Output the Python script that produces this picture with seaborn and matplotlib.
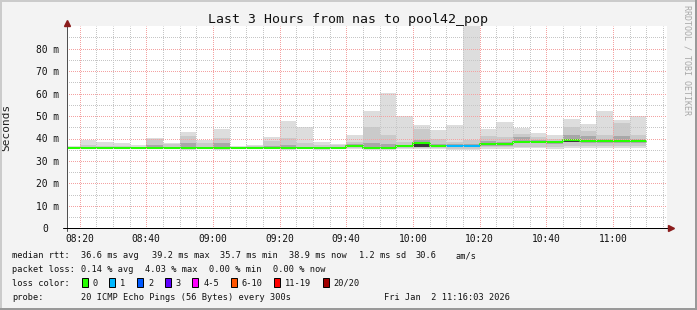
import numpy as np
import pandas as pd
import matplotlib
matplotlib.use("Agg")
import matplotlib.pyplot as plt
import matplotlib.dates as mdates
import seaborn as sns
from matplotlib.patches import Rectangle
from matplotlib.lines import Line2D
from matplotlib.transforms import ScaledTranslation

# ---------------- data ----------------
step_start = pd.date_range("2026-01-02 08:15", "2026-01-02 11:05", freq="5min")
view_start = pd.Timestamp("2026-01-02 08:16:15")
view_end = pd.Timestamp("2026-01-02 11:16:15")

# RTT distribution per 5-minute step (ms)
rtt_min = [35.3, 35.2, 35.2, 35.3, 35.3, 35.2, 35.2, 35.1, 35.2, 35.0,
           35.3, 35.3, 35.2, 35.1, 35.2, 35.0, 35.2, 35.3, 35.0, 35.0,
           35.3, 35.2, 35.3, 35.0, 35.0, 35.5, 35.5, 35.6, 35.6, 35.4,
           35.8, 35.8, 35.6, 35.6, 35.6]
rtt_p10 = [35.5, 35.4, 35.4, 35.5, 35.5, 35.5, 35.4, 35.4, 35.4, 35.3,
           35.5, 35.5, 35.4, 35.4, 35.4, 35.3, 35.4, 35.6, 35.4, 35.4,
           35.8, 35.8, 35.8, 35.4, 35.4, 36.0, 36.0, 36.4, 36.4, 36.2,
           36.8, 36.8, 36.6, 36.6, 36.6]
rtt_p25 = [35.6, 35.6, 35.6, 35.6, 35.6, 35.6, 35.6, 35.6, 35.6, 35.6,
           35.6, 35.6, 35.6, 35.6, 35.6, 35.6, 35.6, 36.1, 35.6, 35.6,
           36.3, 36.3, 36.2, 36.0, 36.0, 36.8, 36.8, 37.8, 37.8, 37.6,
           38.4, 38.0, 38.0, 38.0, 38.0]
rtt_p40 = [35.7, 35.7, 35.7, 35.7, 35.7, 35.7, 35.7, 35.7, 35.7, 35.7,
           35.7, 35.7, 35.7, 35.7, 35.7, 35.7, 35.8, 36.6, 35.8, 35.7,
           36.6, 36.3, 36.6, 36.5, 36.7, 37.5, 37.5, 38.3, 38.3, 38.3,
           38.6, 38.9, 38.9, 38.6, 38.8]
rtt_median = [35.8, 35.8, 35.8, 35.8, 35.8, 35.8, 35.8, 35.8, 35.8, 35.8,
              35.8, 35.8, 35.8, 35.8, 35.8, 35.8, 35.9, 36.7, 35.9, 35.8,
              36.7, 37.8, 36.7, 36.6, 36.8, 37.6, 37.6, 38.4, 38.4, 38.4,
              39.2, 39.0, 39.0, 38.7, 38.9]
rtt_p75 = [36.0, 36.2, 36.1, 36.0, 36.0, 37.0, 36.3, 37.8, 36.3, 38.0,
           36.0, 36.0, 36.5, 37.0, 36.3, 36.2, 36.3, 37.4, 37.8, 37.5,
           37.2, 39.5, 37.5, 37.4, 37.5, 39.0, 38.5, 40.6, 39.5, 39.0,
           41.5, 41.0, 40.0, 41.0, 40.0]
rtt_p90 = [36.3, 37.0, 36.8, 36.5, 36.3, 40.0, 37.4, 41.1, 37.8, 40.1,
           36.3, 36.5, 38.9, 40.2, 37.8, 37.0, 37.0, 38.5, 45.0, 41.6,
           38.6, 44.2, 39.6, 38.6, 39.3, 41.1, 40.5, 42.0, 40.8, 39.8,
           45.3, 43.5, 41.6, 47.0, 41.6]
rtt_max = [36.7, 39.3, 38.4, 38.0, 37.1, 40.2, 38.1, 42.9, 39.3, 44.4,
           36.7, 37.2, 40.8, 47.8, 45.3, 38.3, 37.7, 41.6, 52.4, 60.4,
           50.2, 46.0, 43.8, 46.0, 95.0, 44.2, 47.2, 44.5, 42.6, 41.6,
           48.8, 46.5, 52.4, 48.2, 50.2]
loss_count = [0] * 23 + [1, 1] + [0] * 10

loss_labels = ["0", "1", "2", "3", "4-5", "6-10", "11-19", "20/20"]
loss_colors = ["#26ff00", "#00b8ff", "#0059ff", "#5e00ff", "#ff00fe",
               "#ff5500", "#ff0000", "#a10000"]
loss_upper = [0, 1, 2, 3, 5, 10, 19, 20]

y_ticks = [0, 10, 20, 30, 40, 50, 60, 70, 80]
y_tick_labels = ["0", "10 m", "20 m", "30 m", "40 m", "50 m", "60 m", "70 m", "80 m"]

title = "Last 3 Hours from nas to pool42_pop"
stats_rtt = ["median rtt:", "36.6 ms avg", "39.2 ms max", "35.7 ms min",
             "38.9 ms now", "1.2 ms sd", "30.6", "am/s"]
stats_loss = ["packet loss:", "0.14 % avg", "4.03 % max", "0.00 % min", "0.00 % now"]
probe_text = "20 ICMP Echo Pings (56 Bytes) every 300s"
date_text = "Fri Jan  2 11:16:03 2026"

# ---------------- figure ----------------
sns.set_style("white")
plt.rcParams["font.family"] = ["DejaVu Sans Mono", "DejaVu Sans"]

W, H = 697, 310
fig = plt.figure(figsize=(W / 100, H / 100), dpi=100, facecolor="#f3f3f3")
y0_px, ytop_px, x0_px, pw = 228.3, 26.25, 67, 600
ax = fig.add_axes([x0_px / W, (H - y0_px) / H, pw / W, (y0_px - ytop_px) / H])
ax.set_facecolor("white")

edges = step_start.append(pd.DatetimeIndex([step_start[-1] + pd.Timedelta("5min")]))


def ext(a):
    a = np.asarray(a, float)
    return np.append(a, a[-1])


bands = [(rtt_min, rtt_max, "#dddddd"),
         (rtt_p10, rtt_p90, "#cacaca"),
         (rtt_p25, rtt_p75, "#a8a8a8"),
         (rtt_p40, rtt_median, "#3a3a3a")]
for lo, hi, c in bands:
    ax.fill_between(edges, ext(lo), ext(hi), step="post", color=c, lw=0, zorder=1)

sns.lineplot(x=edges, y=ext(rtt_median), drawstyle="steps-post",
             color=loss_colors[0], lw=1.45, ax=ax, zorder=2)


def loss_color(n):
    for up, c in zip(loss_upper, loss_colors):
        if n <= up:
            return c
    return loss_colors[-1]


for i, n in enumerate(loss_count):
    if n > 0:
        ax.hlines(rtt_median[i], edges[i], edges[i + 1], color=loss_color(n),
                  lw=1.45, zorder=2.2)

ax.set_xlim(view_start, view_end)
ax.set_ylim(0, 90)
ax.set_xlabel("")
ax.set_ylabel("Seconds", fontsize=8, color="#222222")
ax.yaxis.set_label_coords((10.8 - x0_px) / pw, 0.5)

ax.xaxis.set_major_locator(mdates.MinuteLocator(byminute=[0, 20, 40]))
ax.xaxis.set_minor_locator(mdates.MinuteLocator(byminute=range(0, 60, 5)))
ax.xaxis.set_major_formatter(mdates.DateFormatter("%H:%M"))
ax.set_yticks(y_ticks)
ax.set_yticklabels(y_tick_labels)
ax.set_yticks(np.arange(5, 90, 10), minor=True)

ax.set_axisbelow(False)
dot = (0.5, (1, 1))
mg, ng = "#f4a2a2", "#c6c6c6"
ax.grid(which="major", color=mg, lw=0.72, ls=dot, snap=True)
ax.grid(which="minor", color=ng, lw=0.72, ls=dot, snap=True)
ax.tick_params(axis="both", which="major", labelsize=6.9, labelcolor="#111111")
ax.tick_params(axis="y", which="major", length=2.2, width=0.72, color=mg, pad=3.6)
ax.tick_params(axis="y", which="minor", length=1.5, width=0.72, color=ng)
ax.tick_params(axis="x", which="major", length=2.0, width=0.72, color=mg, pad=2.0)
ax.tick_params(axis="x", which="minor", length=1.5, width=0.72, color=ng)

lbl0 = ax.yaxis.get_major_ticks()[0].label1
lbl0.set_transform(lbl0.get_transform() + ScaledTranslation(-11.3 / 100, 0, fig.dpi_scale_trans))

for s in ax.spines.values():
    s.set_visible(False)
ax.plot([0, 0], [-0.012, 1.012], transform=ax.transAxes, color="#505050", lw=0.72,
        clip_on=False, zorder=5, snap=True)
ax.plot([-4.3 / pw, 1.004], [0, 0], transform=ax.transAxes, color="black", lw=0.72,
        clip_on=False, zorder=5, snap=True)
ax.plot([0], [(y0_px - 23.3) / (y0_px - ytop_px)], marker="^", ms=3.8, color="#8b1c1c",
        transform=ax.transAxes, clip_on=False, zorder=6)
ax.plot([(671.3 - x0_px) / pw], [0], marker=">", ms=3.8, color="#8b1c1c",
        transform=ax.transAxes, clip_on=False, zorder=6)

# title and watermark
fig.text(347.5 / W, 1 - 19 / H, title, ha="center", va="center", fontsize=9.5, color="#111111")
fig.text(686.5 / W, 1 - 60 / H, "RRDTOOL / TOBI OETIKER", rotation=270, ha="center",
         va="center", fontsize=6.0, color="#a8a8a8")

# legend rows (baselines)
fs = 6.25
tc = "#111111"
row_b = [258.2, 271.8, 285.8, 299.5]
for txt, x in zip(stats_rtt, [12, 80.7, 151.7, 220, 289.3, 359, 415, 455]):
    fig.text(x / W, 1 - row_b[0] / H, txt, ha="left", va="baseline", fontsize=fs, color=tc)
for txt, x in zip(stats_loss, [12, 80.7, 145, 209.3, 273.3]):
    fig.text(x / W, 1 - row_b[1] / H, txt, ha="left", va="baseline", fontsize=fs, color=tc)
fig.text(12 / W, 1 - row_b[2] / H, "loss color:", ha="left", va="baseline", fontsize=fs, color=tc)
box_x = [81.7, 109.3, 137, 164.7, 192.3, 230.7, 274, 322.7]
for lab, c, bx in zip(loss_labels, loss_colors, box_x):
    fig.patches.append(Rectangle((bx / W, 1 - (row_b[2] + 0.8) / H), 6 / W, 8.6 / H,
                                 transform=fig.transFigure, facecolor=c,
                                 edgecolor="black", lw=0.7, figure=fig))
    fig.text((bx + 11) / W, 1 - row_b[2] / H, lab, ha="left", va="baseline", fontsize=fs, color=tc)
fig.text(12 / W, 1 - row_b[3] / H, "probe:", ha="left", va="baseline", fontsize=fs, color=tc)
fig.text(80.7 / W, 1 - row_b[3] / H, probe_text, ha="left", va="baseline", fontsize=fs, color=tc)
fig.text(510 / W, 1 - row_b[3] / H, date_text, ha="right", va="baseline", fontsize=fs, color=tc)

# 3D frame
fig.add_artist(Line2D([0, 1], [1 - 1 / H, 1 - 1 / H], transform=fig.transFigure, color="#cbcbcb", lw=1.44))
fig.add_artist(Line2D([1 / W, 1 / W], [0, 1], transform=fig.transFigure, color="#cbcbcb", lw=1.44))
fig.add_artist(Line2D([0, 1], [1 / H, 1 / H], transform=fig.transFigure, color="#999999", lw=1.44))
fig.add_artist(Line2D([1 - 1 / W, 1 - 1 / W], [0, 1], transform=fig.transFigure, color="#999999", lw=1.44))

fig.savefig("out.png", dpi=100, facecolor=fig.get_facecolor())
